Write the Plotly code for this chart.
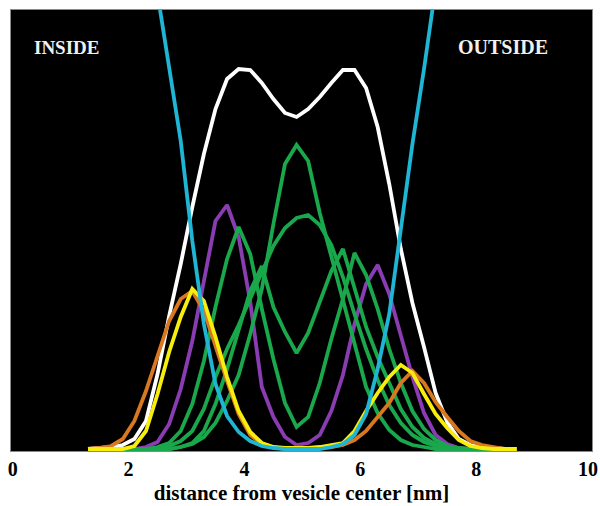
import plotly.graph_objects as go

# distance from vesicle center [nm]
x_nm = [1.3, 1.5, 1.7, 1.9, 2.1, 2.3, 2.5, 2.7, 2.9, 3.1, 3.3, 3.5, 3.7, 3.9, 4.1, 4.3,
        4.5, 4.7, 4.9, 5.1, 5.3, 5.5, 5.7, 5.9, 6.1, 6.3, 6.5, 6.7, 6.9, 7.1, 7.3, 7.5,
        7.7, 7.9, 8.1, 8.3, 8.5, 8.7]

# density profiles (arbitrary units)
white = [0, 1, 2, 4, 10, 28, 75, 133, 185, 242, 295, 340, 370, 380, 379, 366, 350, 336, 332,
         340, 352, 366, 379, 379, 361, 322, 265, 200, 146, 102, 56, 27, 10, 4, 2, 1, 0, 0]
cyan = [950, 900, 820, 740, 660, 560, 455, 380, 308, 208, 125, 65, 33, 17, 8, 3, 1, 0, 0,
        0, 0, 2, 5, 14, 35, 80, 135, 220, 305, 380, 460, 540, 640, 740, 820, 900, 950, 950]
orange = [0, 1, 3, 10, 28, 58, 93, 128, 150, 158, 138, 102, 68, 35, 14, 5, 2, 0, 0,
          0, 1, 2, 4, 9, 18, 32, 46, 66, 78, 66, 47, 32, 18, 8, 4, 2, 0, 0]
yellow = [0, 0, 0, 0, 3, 18, 55, 97, 132, 160, 148, 112, 72, 38, 17, 6, 2, 1, 1,
          1, 2, 4, 6, 18, 38, 56, 72, 84, 76, 55, 35, 21, 9, 3, 1, 0, 0, 0]
purple = [0, 0, 0, 0, 0, 2, 7, 25, 60, 108, 168, 228, 244, 212, 147, 62, 32, 12, 4,
          6, 14, 38, 74, 125, 165, 184, 155, 115, 72, 36, 14, 5, 1, 0, 0, 0, 0, 0]
green_a = [0, 0, 0, 0, 0, 0, 2, 6, 18, 45, 88, 142, 190, 222, 195, 140, 90, 46, 22,
           32, 66, 110, 150, 196, 174, 140, 100, 66, 38, 20, 9, 3, 1, 0, 0, 0, 0, 0]
green_b = [0, 0, 0, 0, 0, 0, 0, 0, 2, 6, 18, 45, 80, 118, 158, 183, 142, 117, 96,
           116, 146, 178, 200, 162, 122, 92, 66, 40, 22, 11, 5, 2, 0, 0, 0, 0, 0, 0]
green_c = [0, 0, 0, 0, 0, 0, 0, 3, 8, 18, 40, 72, 100, 124, 150, 178, 203, 221, 231,
           234, 224, 204, 172, 135, 100, 69, 44, 26, 14, 7, 3, 1, 0, 0, 0, 0, 0, 0]
green_d = [0, 0, 0, 0, 0, 0, 0, 0, 2, 5, 12, 26, 48, 74, 115, 160, 225, 285, 304,
           288, 236, 192, 148, 103, 62, 36, 19, 9, 4, 2, 0, 0, 0, 0, 0, 0, 0, 0]

x_ticks = [0, 2, 4, 6, 8, 10]
x_tick_text = ["0", "2", "4", "6", "8", ""]
last_tick_label = "10"

WHITE = "#ffffff"
CYAN = "#1fb5d5"
GREEN = "#19a84b"
PURPLE = "#8a3db3"
ORANGE = "#d9781f"
YELLOW = "#f7ee0c"

series = [
    (white, WHITE),
    (purple, PURPLE),
    (green_a, GREEN),
    (green_b, GREEN),
    (green_c, GREEN),
    (green_d, GREEN),
    (orange, ORANGE),
    (yellow, YELLOW),
    (cyan, CYAN),
]

fig = go.Figure()
for ys, col in series:
    fig.add_trace(go.Scatter(x=x_nm, y=ys, mode="lines",
                             line=dict(color=col, width=3.8),
                             showlegend=False, hoverinfo="skip"))

serif = "Liberation Serif, Times New Roman, serif"

fig.update_layout(
    width=600, height=506,
    margin=dict(l=11, r=8, t=10, b=55, autoexpand=False),
    paper_bgcolor="white",
    plot_bgcolor="black",
    xaxis=dict(range=[-0.03, 10.0], tickvals=x_ticks, ticktext=x_tick_text, ticks="",
               automargin=False,
               showgrid=False, zeroline=False,
               showline=True, linecolor="#8a8a8a", linewidth=1, mirror=True,
               tickfont=dict(family=serif, size=20, color="black", weight="bold"),
               title=dict(text="distance from vesicle center [nm]",
                          font=dict(family=serif, size=21, color="black", weight="bold"),
                          standoff=6)),
    yaxis=dict(range=[-2, 439], showticklabels=False, ticks="", automargin=False,
               showgrid=False, zeroline=False,
               showline=True, linecolor="#8a8a8a", linewidth=1, mirror=True),
    annotations=[
        dict(text="INSIDE", x=0.33, y=0.915, xref="x", yref="paper",
             xanchor="left", yanchor="middle", showarrow=False,
             font=dict(family=serif, size=19, color="#f0f0f0", weight="bold")),
        dict(text="OUTSIDE", x=7.66, y=0.915, xref="x", yref="paper",
             xanchor="left", yanchor="middle", showarrow=False,
             font=dict(family=serif, size=20, color="#f0f0f0", weight="bold")),
        dict(text=last_tick_label, x=1.0135, y=0, xref="paper", yref="paper",
             xanchor="right", yanchor="middle", yshift=-18, showarrow=False,
             font=dict(family=serif, size=20, color="black", weight="bold")),
    ],
)

fig.write_html("out.html")
